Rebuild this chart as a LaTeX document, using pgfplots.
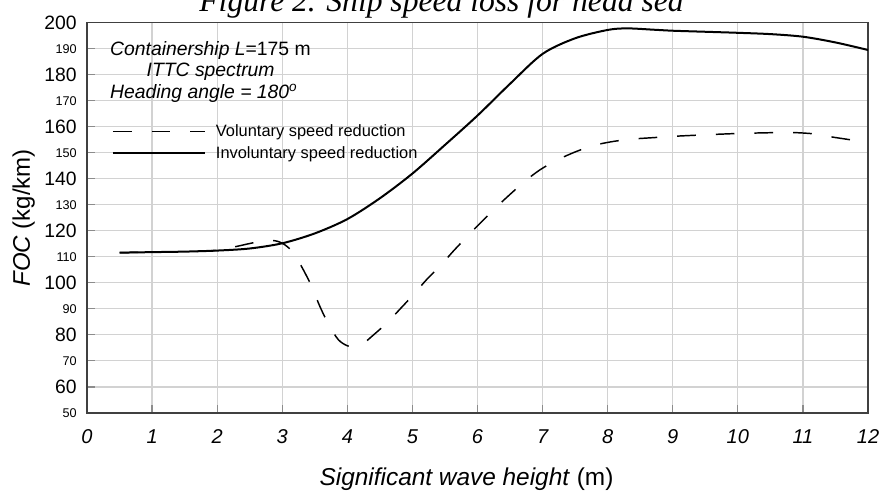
\documentclass[border=0pt]{standalone}
\usepackage{fontspec}
\setmainfont{Liberation Sans}
\newfontfamily\titlefont{Liberation Serif}
\usepackage{pgfplots}
\usepackage{pgfplotstable}
\pgfplotsset{compat=1.18}

\newcommand\bt[1]{\fontsize{14.5}{16}\selectfont #1}
\newcommand\st[1]{\fontsize{9.5}{11}\selectfont #1}

\pgfplotstableread{
x y
0.5 111.6
1.0 111.8
1.5 112.0
2.0 112.4
2.5 113.2
3.0 115.2
3.5 119.0
4.0 124.5
4.5 132.5
5.0 142.0
5.5 153.0
6.0 164.3
6.5 176.5
7.0 188.0
7.5 194.0
8.0 197.2
8.3 197.8
8.7 197.3
9.0 196.9
9.5 196.5
10.0 196.1
10.5 195.6
11.0 194.6
11.5 192.4
12.0 189.5
}\invol

\pgfplotstableread{
x y
0.5 111.6
1.0 111.8
1.5 112.0
2.0 112.5
2.3 114.0
2.6 115.6
2.88 116.2
3.04 114.6
3.17 111.5
3.32 105.2
3.46 98.2
3.57 91.4
3.71 84.1
3.86 78.2
4.0 75.8
4.12 75.5
4.25 76.8
4.38 79.5
4.6 84.4
4.82 90.2
5.02 95.6
5.22 101.3
5.44 106.9
5.64 112.5
5.86 118.3
6.06 123.4
6.28 128.9
6.5 134.0
6.73 139.1
6.97 143.6
7.24 147.4
7.52 150.5
7.8 152.9
8.1 154.4
8.4 155.3
8.7 155.8
9.0 156.3
9.5 156.9
10.0 157.4
10.5 157.7
10.8 157.8
11.15 157.3
11.46 156.0
11.8 154.7
12.0 153.7
}\vol

\begin{document}
\begin{tikzpicture}
\begin{axis}[
  scale only axis, width=585.75pt, height=292.7pt,
  xmin=0, xmax=12, ymin=50, ymax=200,
  xtick={0,1,...,12}, ytick={50,60,...,200},
  yticklabels={{\st{50}},{\bt{60}},{\st{70}},{\bt{80}},{\st{90}},{\bt{100}},{\st{110}},{\bt{120}},{\st{130}},{\bt{140}},{\st{150}},{\bt{160}},{\st{170}},{\bt{180}},{\st{190}},{\bt{200}}},
  grid=major, major grid style={gray!35, line width=0.9pt},
  axis line style={black!75, line width=0.9pt},
  tick pos=left, tick align=inside, major tick length=6pt,
  tick style={black!45, line width=0.9pt},
  /pgf/number format/assume math mode=true,
  xticklabel style={font=\itshape\fontsize{15}{17}\selectfont, inner sep=0pt, anchor=north, yshift=-12.5pt},
  yticklabel style={inner sep=0pt, anchor=east, xshift=-7.5pt},
  xlabel={\textit{Significant wave height} (m)},
  every axis x label/.style={at={(axis description cs:0.5,0)}, anchor=base, yshift=-54.75pt, xshift=-8.25pt, font=\fontsize{18.3}{20}\selectfont},
  ylabel={\textit{FOC} (kg/km)},
  every axis y label/.style={at={(axis description cs:-0.073,0.5)}, anchor=base, rotate=90, font=\fontsize{18}{20}\selectfont},
  clip=false,
  legend style={draw=none, fill=none, at={(axis description cs:0.0316,0.745)}, anchor=north west,
    font=\fontsize{12.3}{14}\selectfont, inner sep=0pt, row sep=3pt,
    nodes={inner sep=1.5pt}, cells={anchor=west}},
  legend image code/.code={\draw[#1] (0pt,0pt) -- (69pt,0pt);},
  legend cell align=left,
]
\addplot[black, line width=1.1pt, dash pattern=on 14pt off 15pt, smooth] table {\vol};
\addlegendentry{\hspace{6pt}Voluntary speed reduction}
\addplot[black, line width=1.5pt, smooth] table {\invol};
\addlegendentry{\hspace{6pt}Involuntary speed reduction}

\node[anchor=base west, inner sep=0pt, font=\fontsize{14.5}{16}\selectfont] at (axis cs:0.353,187.3) {\textit{Containership L}=175 m};
\node[anchor=base, inner sep=0pt, font=\itshape\fontsize{14.5}{16}\selectfont] at (axis cs:1.9,179.3) {ITTC spectrum};
\node[anchor=base west, inner sep=0pt, font=\itshape\fontsize{14.5}{16}\selectfont] at (axis cs:0.353,170.8) {Heading angle = 180\textsuperscript{o}};

\coordinate (SW) at (rel axis cs:0,0);
\coordinate (NE) at (rel axis cs:1,1);
\end{axis}
\node[anchor=base, font=\titlefont\itshape\fontsize{23.7}{26}\selectfont] at ([xshift=265.9pt, yshift=300.7pt]SW) {Figure 2. Ship speed loss for head sea};
\pgfresetboundingbox
\path[use as bounding box] ([xshift=-65.25pt, yshift=-58.5pt]SW) rectangle ([xshift=10.5pt, yshift=17pt]NE);
\end{tikzpicture}
\end{document}
